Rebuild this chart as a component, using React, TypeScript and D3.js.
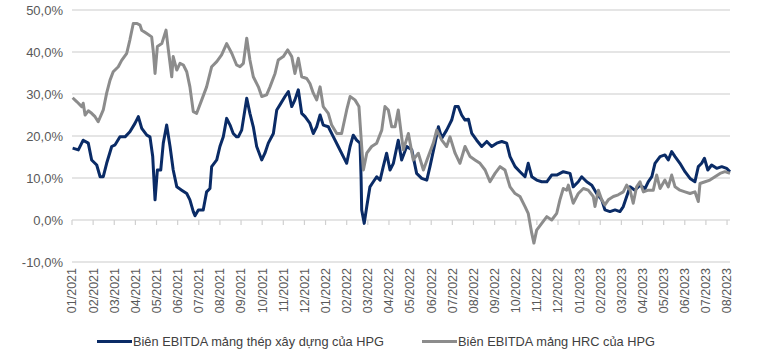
import React from "react";
import * as d3 from "d3";

// Month tick labels (date axis, one label per month start)
const monthLabels = [
  "01/2021","02/2021","03/2021","04/2021","05/2021","06/2021","07/2021","08/2021",
  "09/2021","10/2021","11/2021","12/2021","01/2022","02/2022","03/2022","04/2022",
  "05/2022","06/2022","07/2022","08/2022","09/2022","10/2022","11/2022","12/2022",
  "01/2023","02/2023","03/2023","04/2023","05/2023","06/2023","07/2023","08/2023",
];

const yTicks = [-10, 0, 10, 20, 30, 40, 50];

// time in months since 01/2021
const steelT = [
  0.03,0.30,0.53,0.77,0.93,1.17,1.33,1.48,1.64,1.88,2.04,2.27,2.51,2.74,2.98,3.14,3.30,3.54,3.69,3.82,
  3.93,4.04,4.20,4.32,4.48,4.64,4.79,4.96,5.19,5.43,5.58,5.74,5.82,5.98,6.21,6.37,6.53,6.61,6.85,7.00,
  7.16,7.32,7.48,7.63,7.79,7.87,8.03,8.27,8.42,8.58,8.74,8.98,9.13,9.29,9.53,9.69,9.84,10.08,10.24,10.40,
  10.55,10.71,10.87,11.03,11.26,11.42,11.58,11.74,11.89,12.13,12.37,12.60,12.84,13.00,13.16,13.31,13.47,13.63,13.68,13.71,
  13.83,13.95,14.10,14.26,14.42,14.58,14.73,14.89,15.05,15.21,15.44,15.60,15.84,16.08,16.31,16.55,16.79,16.94,17.18,17.34,
  17.50,17.73,17.97,18.13,18.28,18.44,18.60,18.76,18.92,19.15,19.39,19.63,19.86,20.10,20.34,20.57,20.73,20.97,21.20,21.44,
  21.59,21.76,21.99,22.23,22.47,22.70,22.94,23.25,23.57,23.72,23.96,24.12,24.36,24.60,24.83,25.07,25.22,25.46,25.70,25.93,
  26.09,26.25,26.41,26.64,26.88,27.12,27.27,27.44,27.59,27.83,28.06,28.22,28.38,28.54,28.77,29.01,29.25,29.48,29.64,29.80,
  29.93,30.09,30.27,30.51,30.75,30.98,31.14,
];
const steelV = [
  17.1,16.7,19.0,18.3,14.3,13.1,10.3,10.3,13.5,17.5,17.9,19.8,19.8,21.0,23.0,24.6,21.8,20.2,19.8,15.1,
  4.8,11.9,11.9,18.3,22.6,17.5,11.9,7.9,7.1,6.3,4.8,2.0,1.0,2.4,2.4,6.7,7.5,12.7,14.3,17.5,
  19.8,24.2,22.6,20.6,19.8,19.8,21.4,29.0,25.4,22.2,17.5,14.3,15.9,18.3,20.6,26.2,27.4,29.4,30.6,27.0,
  28.6,31.0,25.4,24.6,23.0,20.6,22.2,25.0,22.6,22.2,19.8,17.5,15.1,13.5,17.5,20.2,19.0,18.3,10.3,2.4,
  -0.8,3.2,7.9,9.1,10.3,9.5,12.7,15.9,11.9,13.5,19.0,14.3,17.5,16.7,11.1,9.9,9.5,12.7,18.3,22.2,
  19.5,21.4,23.8,27.0,27.0,25.0,23.8,24.0,20.6,19.0,17.5,18.7,17.5,18.3,18.7,18.3,15.1,12.7,11.5,10.3,
  13.5,10.3,9.5,9.1,9.1,10.7,10.7,11.5,11.1,7.9,9.1,10.3,9.1,8.3,6.3,4.8,2.4,2.0,2.4,2.0,
  3.2,5.6,7.9,7.1,8.3,7.5,9.1,10.3,13.5,15.1,15.5,14.3,16.3,15.1,13.5,11.5,9.9,9.1,12.7,13.5,
  14.7,11.9,13.1,12.3,12.7,12.3,11.5,
];

const hrcT = [
  0.03,0.22,0.46,0.53,0.62,0.77,0.93,1.09,1.24,1.41,1.48,1.64,1.80,1.95,2.19,2.35,2.59,2.74,2.90,3.08,
  3.22,3.30,3.54,3.77,3.85,3.93,4.04,4.25,4.45,4.56,4.72,4.79,4.96,5.11,5.27,5.43,5.58,5.74,5.90,6.14,
  6.37,6.61,6.85,7.08,7.32,7.56,7.79,7.95,8.11,8.27,8.42,8.58,8.82,8.98,9.21,9.37,9.61,9.76,10.00,10.21,
  10.40,10.55,10.71,10.87,11.11,11.26,11.42,11.58,11.74,11.89,12.13,12.29,12.53,12.76,13.00,13.16,13.39,13.58,13.71,13.79,
  13.95,14.18,14.42,14.66,14.81,14.97,15.13,15.29,15.44,15.60,15.68,15.92,16.15,16.39,16.63,16.86,17.10,17.26,17.50,17.73,
  17.89,18.13,18.36,18.60,18.84,19.07,19.31,19.55,19.78,20.02,20.26,20.49,20.73,20.97,21.20,21.44,21.59,21.76,21.86,21.99,
  22.23,22.47,22.70,22.94,23.09,23.25,23.41,23.49,23.72,23.96,24.20,24.43,24.67,24.75,24.91,25.07,25.22,25.38,25.62,25.85,
  26.09,26.25,26.41,26.56,26.72,26.88,27.04,27.27,27.51,27.67,27.83,28.06,28.22,28.38,28.54,28.77,29.01,29.25,29.48,29.64,
  29.72,29.96,30.19,30.43,30.67,30.90,31.14,
];
const hrcV = [
  29.1,28.2,27.0,27.8,25.0,26.0,25.4,24.6,23.4,25.4,26.2,30.2,33.3,35.3,36.5,38.0,39.7,42.9,46.8,46.8,
  46.4,45.2,44.4,43.6,40.0,34.9,41.3,42.0,45.2,40.5,34.1,38.9,35.7,37.3,36.9,35.3,31.7,25.8,25.4,28.6,
  31.7,36.5,37.7,39.3,42.0,39.7,36.9,36.5,37.3,43.3,38.1,34.1,31.7,29.4,29.8,31.7,34.9,38.1,38.9,40.5,
  38.9,34.9,38.5,34.1,33.7,32.5,30.2,28.6,31.7,27.0,25.4,22.6,20.6,20.6,26.2,29.4,28.6,27.0,17.5,11.9,
  15.9,17.5,18.3,21.4,27.0,26.2,22.2,22.2,26.2,19.8,16.7,20.6,14.3,15.9,11.9,15.1,18.3,21.4,19.0,17.5,
  19.8,15.9,13.5,17.5,15.1,14.3,13.5,11.9,9.1,11.1,12.7,11.9,7.9,6.3,5.6,3.2,1.6,-3.2,-5.5,-2.4,
  -0.8,0.8,0.0,1.6,4.8,7.5,7.1,8.3,4.0,6.3,7.5,7.1,5.6,3.2,7.1,4.8,3.6,4.8,5.6,6.0,
  6.7,8.3,7.1,4.0,7.9,9.1,6.7,7.1,7.1,10.7,7.5,9.5,7.9,10.7,7.9,7.1,6.7,6.3,6.7,4.4,
  8.7,9.1,9.5,10.3,11.1,11.5,11.1,
];

const seriesNames = ["Biên EBITDA mảng thép xây dựng của HPG", "Biên EBITDA mảng HRC của HPG"];
const seriesColors = ["#0a2b66", "#8c8c8c"];

const W = 765;
const H = 360;

export default function App() {
  const x = d3.scaleLinear().domain([0, 31.14]).range([72, 730]);
  const y = d3.scaleLinear().domain([-10, 50]).range([262, 10]);
  const line = d3
    .line<[number, number]>()
    .x((d) => x(d[0]))
    .y((d) => y(d[1]))
    .curve(d3.curveLinear);

  const steel: [number, number][] = steelT.map((t, i) => [t, steelV[i]]);
  const hrc: [number, number][] = hrcT.map((t, i) => [t, hrcV[i]]);
  const font = "'Liberation Sans', Arial, sans-serif";
  const fmt = (v: number) => v.toFixed(1).replace(".", ",") + "%";

  return (
    <div style={{ position: "fixed", left: 0, top: 0 }}>
      <svg width={W} height={H} style={{ display: "block", background: "#fff" }}>
        {yTicks.map((t) => (
          <g key={t}>
            <line x1={72} x2={730} y1={y(t)} y2={y(t)} stroke="#dcdcdc" strokeWidth={1.6} />
            <text
              x={63}
              y={y(t)}
              dy="0.35em"
              textAnchor="end"
              fontFamily={font}
              fontSize={13}
              fill="#595959"
            >
              {fmt(t)}
            </text>
          </g>
        ))}
        {monthLabels.map((m, i) => (
          <g key={m}>
            <line x1={x(i)} x2={x(i)} y1={y(0)} y2={y(0) + 5} stroke="#d0d0d0" strokeWidth={1.2} />
            <text
              transform={`translate(${x(i)},268) rotate(-90)`}
              dy="0.35em"
              textAnchor="end"
              fontFamily={font}
              fontSize={12.5}
              fill="#595959"
            >
              {m}
            </text>
          </g>
        ))}
        <path d={line(steel) ?? ""} fill="none" stroke={seriesColors[0]} strokeWidth={3} strokeLinejoin="round" />
        <path d={line(hrc) ?? ""} fill="none" stroke={seriesColors[1]} strokeWidth={3} strokeLinejoin="round" />
        {[
          { x0: 97, i: 0, w: 251 },
          { x0: 422, i: 1, w: 197 },
        ].map(({ x0, i, w }) => (
          <g key={i}>
            <line x1={x0} x2={x0 + 35} y1={341.5} y2={341.5} stroke={seriesColors[i]} strokeWidth={3} />
            <text
              x={x0 + 36}
              y={341.5}
              dy="0.35em"
              fontFamily={font}
              fontSize={13}
              fill="#404040"
              textLength={w}
              lengthAdjust="spacingAndGlyphs"
            >
              {seriesNames[i]}
            </text>
          </g>
        ))}
      </svg>
    </div>
  );
}
